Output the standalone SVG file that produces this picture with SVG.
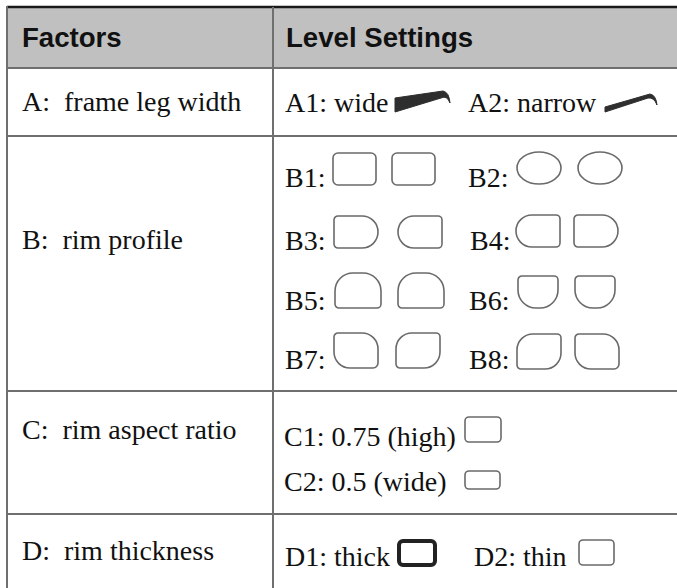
<svg xmlns="http://www.w3.org/2000/svg" width="677" height="588" viewBox="0 0 677 588">
  <style>
    .hdr { font-family: "Liberation Sans", Arial, sans-serif; font-weight: bold; font-size: 27.6px; fill: #111; }
    .txt { font-family: "Liberation Serif", "Times New Roman", serif; font-size: 28px; fill: #111; }
    .grid { stroke: #6f6f6f; stroke-width: 2; fill: none; }
    .rim { fill: #fff; stroke: #6a6a6a; stroke-width: 1.6; }
    .leg { fill: #2e2e2e; stroke: #2e2e2e; stroke-width: 1; stroke-linejoin: round; }
  </style>
  <defs>
    <!-- rim profile outlines, drawn at the origin -->
    <rect id="rr" x="0" y="0" width="43" height="32" rx="5" ry="5"/>
    <ellipse id="ov" cx="22" cy="16" rx="22" ry="16"/>
    <path id="dr" d="M4,0 H28 A16,16 0 0 1 28,32 H4 A4,4 0 0 1 0,28 V4 A4,4 0 0 1 4,0 Z"/>
    <path id="dl" d="M16,0 H40 A4,4 0 0 1 44,4 V28 A4,4 0 0 1 40,32 H16 A16,16 0 0 1 16,0 Z"/>
    <path id="dome" d="M0,31 V18 A18,18 0 0 1 18,0 H28 A18,18 0 0 1 46,18 V31 A4,4 0 0 1 42,35 H4 A4,4 0 0 1 0,31 Z"/>
    <path id="cup" d="M4,0 H36 A4,4 0 0 1 40,4 V14 A18,18 0 0 1 22,32 H18 A18,18 0 0 1 0,14 V4 A4,4 0 0 1 4,0 Z"/>
    <path id="lfA" d="M4,0 H28 A16,16 0 0 1 44,16 V30 A5,5 0 0 1 39,35 H16 A16,16 0 0 1 0,19 V4 A4,4 0 0 1 4,0 Z"/>
    <path id="lfB" d="M16,0 H40 A4,4 0 0 1 44,4 V19 A16,16 0 0 1 28,35 H4 A4,4 0 0 1 0,31 V16 A16,16 0 0 1 16,0 Z"/>
  </defs>

  <!-- header band -->
  <rect x="7" y="7" width="670" height="61" fill="#c0c0c0"/>
  <line x1="7" y1="7" x2="677" y2="7" stroke="#1a1a1a" stroke-width="2.5"/>

  <!-- table rules -->
  <g id="grid" class="grid">
    <line x1="7" y1="6" x2="7" y2="588"/>
    <line x1="273" y1="7" x2="273" y2="588"/>
    <line x1="7" y1="68" x2="677" y2="68"/>
    <line x1="7" y1="136" x2="677" y2="136"/>
    <line x1="7" y1="391" x2="677" y2="391"/>
    <line x1="7" y1="514" x2="677" y2="514"/>
  </g>

  <g id="header">
    <text class="hdr" x="22" y="47">Factors</text>
    <text class="hdr" x="286" y="47">Level Settings</text>
  </g>

  <g id="factor-a">
    <text class="txt" x="22" y="111" xml:space="preserve">A:  frame leg width</text>
    <text class="txt" x="285" y="112">A1: wide</text>
    <path class="leg" d="M395,98 L443,91 Q449,92 450,103 Q447,95 441,98 L395,112 Z"/>
    <text class="txt" x="468" y="112">A2: narrow</text>
    <path class="leg" d="M605,107 L650,94 Q656,95 657,105 Q654,97 648,98 L605,112 Z"/>
  </g>

  <g id="factor-b">
    <text class="txt" x="22" y="249" xml:space="preserve">B:  rim profile</text>
    <text class="txt" x="285" y="187">B1:</text>
    <use href="#rr" class="rim" x="333" y="153"/>
    <use href="#rr" class="rim" x="392" y="153"/>
    <text class="txt" x="468" y="187">B2:</text>
    <use href="#ov" class="rim" x="517" y="152"/>
    <use href="#ov" class="rim" x="578" y="152"/>

    <text class="txt" x="285" y="250">B3:</text>
    <use href="#dr" class="rim" x="334" y="216"/>
    <use href="#dl" class="rim" x="398" y="216"/>
    <text class="txt" x="470" y="250">B4:</text>
    <use href="#dl" class="rim" x="516" y="215"/>
    <use href="#dr" class="rim" x="574" y="215"/>

    <text class="txt" x="285" y="310">B5:</text>
    <use href="#dome" class="rim" x="335" y="273"/>
    <use href="#dome" class="rim" x="398" y="273"/>
    <text class="txt" x="469" y="310">B6:</text>
    <use href="#cup" class="rim" x="518" y="276"/>
    <use href="#cup" class="rim" x="575" y="276"/>

    <text class="txt" x="285" y="369">B7:</text>
    <use href="#lfA" class="rim" x="334" y="333"/>
    <use href="#lfB" class="rim" x="396" y="333"/>
    <text class="txt" x="469" y="369">B8:</text>
    <use href="#lfB" class="rim" x="517" y="334"/>
    <use href="#lfA" class="rim" x="575" y="334"/>
  </g>

  <g id="factor-c">
    <text class="txt" x="22" y="439" xml:space="preserve">C:  rim aspect ratio</text>
    <text class="txt" x="284" y="446">C1: 0.75 (high)</text>
    <rect class="rim" x="465" y="417" width="36" height="25" rx="4"/>
    <text class="txt" x="284" y="491">C2: 0.5 (wide)</text>
    <rect class="rim" x="465" y="471" width="35" height="18" rx="4"/>
  </g>

  <g id="factor-d">
    <text class="txt" x="22" y="560" xml:space="preserve">D:  rim thickness</text>
    <text class="txt" x="285" y="566">D1: thick</text>
    <rect x="399" y="541" width="36" height="24" rx="4" fill="#fff" stroke="#222" stroke-width="4"/>
    <text class="txt" x="474" y="566">D2: thin</text>
    <rect class="rim" x="579" y="540" width="35" height="25" rx="4"/>
  </g>
</svg>
